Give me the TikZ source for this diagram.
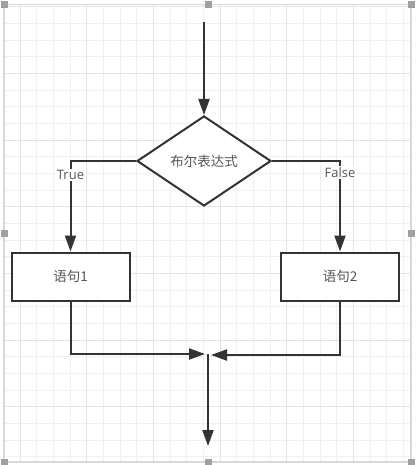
\documentclass[tikz,border=0pt]{standalone}
\usepackage{fontspec}
\setmainfont{Open Sans}
\newfontfamily\cjk{Noto Sans CJK SC}
\usetikzlibrary{shapes.geometric,arrows.meta}
\definecolor{lineC}{HTML}{333333}
\definecolor{textC}{HTML}{555555}
\definecolor{gridminor}{HTML}{F0F0F0}
\definecolor{gridmajor}{HTML}{E4E4E4}
\definecolor{frameC}{HTML}{D8D8D8}
\definecolor{handleC}{HTML}{A0A0A0}
\tikzset{
  conn/.style={draw=lineC, line width=2pt},
  arr/.style={conn, -{Triangle[length=16pt,width=11pt]}},
  stmt/.style={draw=lineC, line width=2pt, fill=white, minimum width=118pt, minimum height=48pt, inner sep=0pt, font=\fontsize{13.5pt}{15pt}\selectfont\cjk, text=textC},
  cond/.style={diamond, aspect=1.5, draw=lineC, line width=2pt, fill=white, minimum width=134pt, minimum height=90pt, inner sep=0pt, font=\fontsize{13.5pt}{15pt}\selectfont\cjk, text=textC},
  lbl/.style={fill=white, inner sep=1.5pt, font=\fontsize{13pt}{14pt}\selectfont, text=textC},
  handle/.style={fill=handleC, draw=none, minimum size=7pt, inner sep=0pt}
}
\begin{document}
\begin{tikzpicture}[x=1pt,y=-1pt]
\useasboundingbox (0,0) rectangle (416,465);
\fill[white] (0,0) rectangle (416,465);
% grid
\foreach \k in {0,...,24} {
  \draw[gridminor, line width=0.8pt] ({3.5+16.667*\k},5) -- ({3.5+16.667*\k},462);
}
\foreach \k in {0,...,27} {
  \draw[gridminor, line width=0.8pt] (4,{6.7+16.667*\k}) -- (411,{6.7+16.667*\k});
}
\foreach \k in {1,5,9,13,17,21} {
  \draw[gridmajor, line width=0.9pt] ({3.5+16.667*\k},5) -- ({3.5+16.667*\k},462);
}
\foreach \k in {0,4,8,12,16,20,24} {
  \draw[gridmajor, line width=0.9pt] (4,{6.7+16.667*\k}) -- (411,{6.7+16.667*\k});
}
% frame
\draw[frameC, line width=1.2pt] (4,4.5) rectangle (411,462);
\node[handle] (h1) at (4,4.5) {};
\node[handle] (h2) at (208.5,4.5) {};
\node[handle] (h3) at (411,4.5) {};
\node[handle] (h4) at (4,233.5) {};
\node[handle] (h5) at (411,233.5) {};
\node[handle] (h6) at (4,462) {};
\node[handle] (h7) at (208.5,462) {};
\node[handle] (h8) at (411,462) {};
% nodes
\coordinate (start) at (204,22);
\node[cond] (c) at (204,161) {布尔表达式};
\node[stmt] (s1) at (70.5,276.5) {语句1};
\node[stmt] (s2) at (340,276.5) {语句2};
\coordinate (mL) at (205,354);
\coordinate (mR) at (211,355);
\coordinate (mT) at (208,354);
\coordinate (endp) at (208,446);
% connectors
\draw[arr] (start) -- (c.north);
\draw[arr] (c.west) -| node[lbl, pos=0.577] (tl) {True} (s1.north);
\draw[arr] (c.east) -| node[lbl, pos=0.566] (fl) {False} (s2.north);
\draw[arr] (s1.south) |- (mL);
\draw[arr] (s2.south) |- (mR);
\draw[arr] (mT) -- (endp);
\end{tikzpicture}
\end{document}
